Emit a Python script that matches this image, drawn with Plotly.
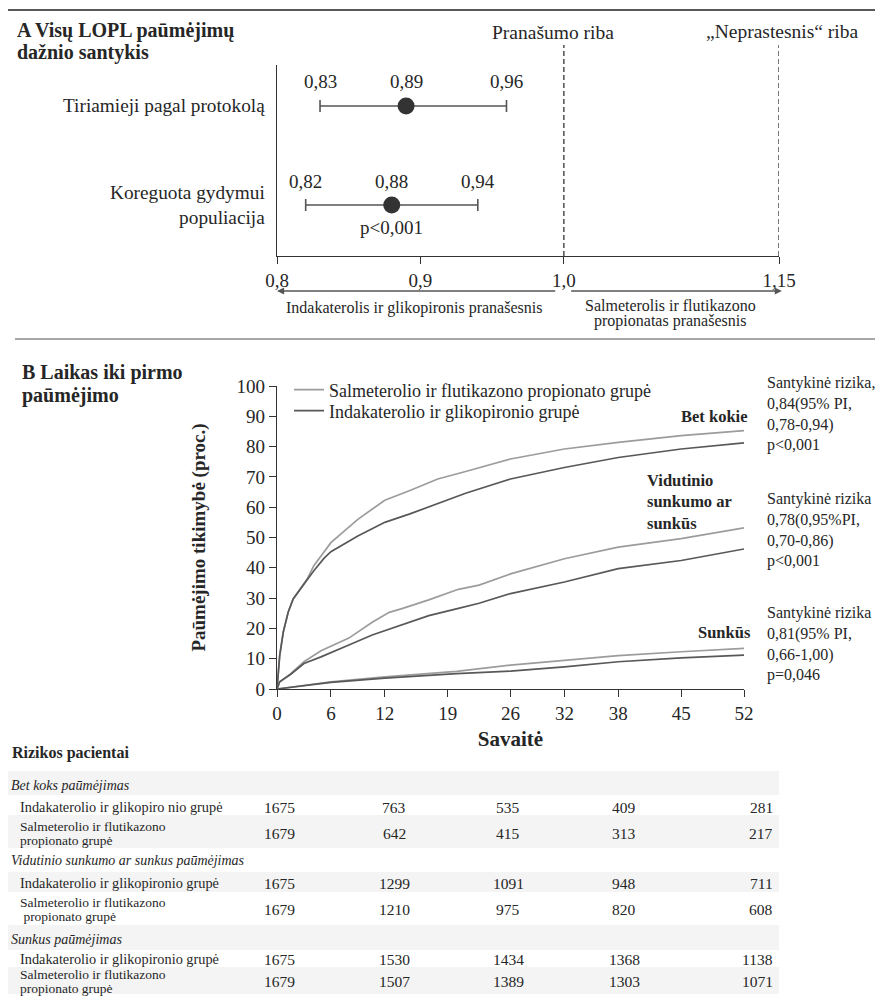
import plotly.graph_objects as go

# ---------------- data ----------------
# Panel A: rate ratio (point estimate, 95% CI)
rows_a = ["Tiriamieji pagal protokolą", "Koreguota gydymui<br>populiacija"]
rr_mid = [0.89, 0.88]
rr_lo = [0.83, 0.82]
rr_hi = [0.96, 0.94]
rr_pos = [2, 1]
rr_mid_txt = ["0,89", "0,88"]
rr_lo_txt = ["0,83", "0,82"]
rr_hi_txt = ["0,96", "0,94"]
a_ticks = [0.8, 0.9, 1.0, 1.15]
a_ticktext = ["0,8", "0,9", "1,0", "1,15"]

# Panel B: cumulative probability of first exacerbation (%)
weeks_any = [0, 0.1, 0.3, 0.7, 1.25, 1.8, 2.6, 3.35, 4.1, 5.25, 6, 9, 12, 14.8, 17.9, 21, 26, 32, 38, 45, 52]
sfc_any = [0, 5, 11, 18.8, 25.4, 29.7, 33, 36.3, 40.7, 45.5, 48.3, 56, 62.3, 65.5, 69.3, 71.8, 75.9, 79.2, 81.4, 83.6, 85.3]
igl_any = [0, 5, 11, 18.8, 25.4, 29.7, 33, 35.7, 39, 43.2, 45.3, 50.5, 55, 57.8, 61.1, 64.6, 69.3, 73.1, 76.4, 79.2, 81.2]

weeks_mod = [0, 0.3, 1.5, 3, 4.9, 5.8, 8, 10.6, 12.5, 14, 16.9, 20.2, 22.5, 26, 32, 38, 45, 52]
sfc_mod = [0, 2.4, 5, 9, 12.6, 13.8, 16.8, 22, 25.3, 26.6, 29.4, 32.9, 34.3, 38, 43, 46.8, 49.6, 53.2]
igl_mod = [0, 2.4, 4.8, 8.4, 10.6, 11.8, 14.5, 17.8, 19.8, 21.3, 24.2, 26.6, 28.3, 31.5, 35.3, 39.7, 42.4, 46.2]

weeks_sev = [0, 6, 12, 20, 26, 32, 38, 45, 52]
sfc_sev = [0, 2.4, 4, 5.8, 7.9, 9.5, 11, 12.3, 13.4]
igl_sev = [0, 2.2, 3.6, 5.1, 5.9, 7.3, 9, 10.3, 11.2]

week_ticks = [0, 6, 12, 19, 26, 32, 38, 45, 52]

name_sfc = "Salmeterolio ir flutikazono propionato grupė"
name_igl = "Indakaterolio ir glikopironio grupė"

# Risk table
table_groups = ["Bet koks paūmėjimas",
                "Vidutinio sunkumo ar sunkus paūmėjimas",
                "Sunkus paūmėjimas"]
igl_labels = ["Indakaterolio ir glikopiro nio grupė",
              "Indakaterolio ir glikopironio grupė",
              "Indakaterolio ir glikopironio grupė"]
sfc_labels = [("Salmeterolio ir flutikazono", "propionato grupė"),
              ("Salmeterolio ir flutikazono", " propionato grupė"),
              ("Salmeterolio ir flutikazono", "propionato grupė")]
igl_risk = [[1675, 763, 535, 409, 281],
            [1675, 1299, 1091, 948, 711],
            [1675, 1530, 1434, 1368, 1138]]
sfc_risk = [[1679, 642, 415, 313, 217],
            [1679, 1210, 975, 820, 608],
            [1679, 1507, 1389, 1303, 1071]]

# ---------------- layout helpers ----------------
# the page body adds an 8 px offset; the figure fills the rest of the window
OFF = 8
W, H = 883 - OFF, 1003 - OFF
FONT = "Liberation Serif"
TXT = "#262626"
LIGHT = "#9c9c9c"
DARK = "#585858"


def px(x):
    return (x - OFF) / W


def py(y):
    return 1 - (y - OFF) / H


fig = go.Figure()

# ---------- Panel A ----------
fig.add_trace(go.Scatter(
    x=rr_mid, y=rr_pos, mode="markers", xaxis="x", yaxis="y", showlegend=False,
    marker=dict(size=17, color="#333333"),
    error_x=dict(type="data", symmetric=False,
                 array=[h - m for h, m in zip(rr_hi, rr_mid)],
                 arrayminus=[m - l for m, l in zip(rr_mid, rr_lo)],
                 color="#555555", thickness=1.6, width=6),
    hoverinfo="skip"))

# ---------- Panel B curves ----------
curves = [
    (weeks_any, sfc_any, LIGHT, name_sfc, True, "legend"),
    (weeks_any, igl_any, DARK, name_igl, True, "legend2"),
    (weeks_mod, sfc_mod, LIGHT, name_sfc, False, "legend"),
    (weeks_mod, igl_mod, DARK, name_igl, False, "legend2"),
    (weeks_sev, sfc_sev, LIGHT, name_sfc, False, "legend"),
    (weeks_sev, igl_sev, DARK, name_igl, False, "legend2"),
]
for wx, vy, col, nm, sl, lg in curves:
    fig.add_trace(go.Scatter(
        x=wx, y=vy, mode="lines", xaxis="x2", yaxis="y2",
        line=dict(color=col, width=1.7), name=nm, showlegend=sl,
        legendgroup=nm, legend=lg))

ann = []
shapes = []


def text(x, y, t, size, xanchor="center", yanchor="middle", xref="paper", yref="paper",
         align="left", xshift=0, yshift=0):
    ann.append(dict(x=x, y=y, xref=xref, yref=yref, text=t, showarrow=False,
                    xanchor=xanchor, yanchor=yanchor, align=align,
                    xshift=xshift, yshift=yshift,
                    font=dict(family=FONT, size=size, color=TXT)))


# top rule and separator
shapes.append(dict(type="line", xref="paper", yref="paper", x0=0, x1=1, y0=py(10), y1=py(10),
                   line=dict(color="#222222", width=1.5)))
shapes.append(dict(type="line", xref="paper", yref="paper", x0=px(15), x1=px(879), y0=py(339), y1=py(339),
                   line=dict(color="#8a8a8a", width=1.5)))

# Panel A titles
text(px(15), py(30), "<b>A Visų LOPL paūmėjimų</b>", 20, xanchor="left")
text(px(15), py(52), "<b>dažnio santykis</b>", 20, xanchor="left")

# Row labels
for lab, pos in zip(rows_a, rr_pos):
    text(px(267), pos, lab, 19.3, xanchor="right", yref="y", align="right")

# value labels
for m, l, h, mt, lt, ht, pos in zip(rr_mid, rr_lo, rr_hi, rr_mid_txt, rr_lo_txt, rr_hi_txt, rr_pos):
    for xv, tv in ((l, lt), (m, mt), (h, ht)):
        text(xv, pos, tv, 19, xref="x", yref="y", yshift=24)
text(rr_mid[1], rr_pos[1], "p&lt;0,001", 19, xref="x", yref="y", yshift=-22)

# reference (dashed) lines
for xv in (1.0, 1.15):
    shapes.append(dict(type="line", xref="x", yref="paper", x0=xv, x1=xv, y0=py(256), y1=py(45),
                       line=dict(color="#333333", width=1.3, dash="5px,3px")))
text(1.0, py(33), "Pranašumo riba", 19.5, xref="x", xshift=-11)
text(1.15, py(32), "„Neprastesnis“ riba", 19.5, xref="x", xshift=3)

# direction arrows
ann.append(dict(x=0.8, y=py(291), xref="x", yref="paper", ax=0.995, ay=0, axref="x", ayref="pixel",
                showarrow=True, arrowhead=2, arrowsize=1.1, arrowwidth=1.3, arrowcolor="#555555", text=""))
ann.append(dict(x=1.152, y=py(291), xref="x", yref="paper", ax=1.004, ay=0, axref="x", ayref="pixel",
                showarrow=True, arrowhead=2, arrowsize=1.1, arrowwidth=1.3, arrowcolor="#555555", text=""))
text(px(414), py(308), "Indakaterolis ir glikopironis pranašesnis", 16)
text(px(670), py(305), "Salmeterolis ir flutikazono", 16)
text(px(670), py(321), "propionatas pranašesnis", 16)

# Panel B titles
text(px(20), py(372), "<b>B Laikas iki pirmo</b>", 20, xanchor="left")
text(px(20), py(395), "<b>paūmėjimo</b>", 20, xanchor="left")

# curve labels
text(px(749), 90, "<b>Bet kokie</b>", 16.5, xanchor="right", yref="y2")
text(px(645), 61.7, "<b>Vidutinio<br>sunkumo ar<br>sunkūs</b>", 16.5, xanchor="left", yref="y2")
text(px(753), 18.5, "<b>Sunkūs</b>", 16.5, xanchor="right", yref="y2")

# hazard ratio notes
text(px(765), 90.8, "Santykinė rizika,<br>0,84(95% PI,<br>0,78-0,94)<br>p&lt;0,001", 16, xanchor="left", yref="y2")
text(px(765), 52.5, "Santykinė rizika<br>0,78(0,95%PI,<br>0,70-0,86)<br>p&lt;0,001", 16, xanchor="left", yref="y2")
text(px(765), 14.7, "Santykinė rizika<br>0,81(95% PI,<br>0,66-1,00)<br>p=0,046", 16, xanchor="left", yref="y2")

# ---------- risk table ----------
text(px(10), py(753), "<b>Rizikos pacientai</b>", 16, xanchor="left")
band_y = [(771, 795), (815, 848), (872, 892), (925, 950), (967, 994)]
for y0, y1 in band_y:
    shapes.append(dict(type="rect", xref="paper", yref="paper", x0=px(8), x1=px(779),
                       y0=py(y1), y1=py(y0), fillcolor="#f4f4f4", line=dict(width=0), layer="below"))

group_y = [785, 860.5, 939]
igl_y = [807, 883, 959]
sfc_y = [833, 909, 981]
col_x = [279, 394, 508, 624]
last_col_right = 775

for g in range(3):
    text(px(9), py(group_y[g]), "<i>" + table_groups[g] + "</i>", 14, xanchor="left")
    text(px(18), py(igl_y[g]), igl_labels[g], 14.3, xanchor="left")
    l1, l2 = sfc_labels[g]
    text(px(18), py(sfc_y[g] - 7), l1, 13.5, xanchor="left")
    text(px(18), py(sfc_y[g] + 7.5), l2, 13.5, xanchor="left")
    for rowvals, yy in ((igl_risk[g], igl_y[g]), (sfc_risk[g], sfc_y[g])):
        for ci, v in enumerate(rowvals):
            if ci < 4:
                text(px(col_x[ci]), py(yy), str(v), 15.5)
            else:
                text(px(last_col_right), py(yy), str(v), 15.5, xanchor="right")

axis_common = dict(showgrid=False, zeroline=False, showline=True, linecolor="#333333", linewidth=1.3,
                   ticks="outside", ticklen=7, tickcolor="#333333", tickwidth=1.3, automargin=False,
                   tickfont=dict(family=FONT, size=19, color=TXT))

legend_common = dict(xanchor="left", yanchor="middle", bgcolor="rgba(0,0,0,0)",
                     font=dict(family=FONT, size=18, color=TXT), itemwidth=30, tracegroupgap=0)

fig.update_layout(
    width=W, height=H,
    margin=dict(l=0, r=0, t=0, b=0, autoexpand=False),
    paper_bgcolor="white", plot_bgcolor="rgba(0,0,0,0)",
    font=dict(family=FONT, color=TXT),
    separators=", ",
    xaxis=dict(domain=[px(277), px(779)], range=[0.8, 1.15], tickvals=a_ticks, ticktext=a_ticktext,
               anchor="y", **axis_common),
    yaxis=dict(domain=[py(256), py(65)], range=[0.485, 2.414], anchor="x", automargin=False,
               showgrid=False, zeroline=False, showline=True, linecolor="#333333", linewidth=1.3,
               showticklabels=False, ticks=""),
    xaxis2=dict(domain=[px(277), px(744)], range=[0, 52], tickvals=week_ticks, anchor="y2",
                title=dict(text="<b>Savaitė</b>", font=dict(family=FONT, size=21, color=TXT), standoff=8),
                **axis_common),
    yaxis2=dict(domain=[py(689), py(386)], range=[0, 100], dtick=10, anchor="x2",
                title=dict(text="<b>Paūmėjimo tikimybė (proc.)</b>", font=dict(family=FONT, size=19, color=TXT),
                           standoff=25),
                **axis_common),
    legend=dict(x=px(289), y=py(390), **legend_common),
    legend2=dict(x=px(289), y=py(411), **legend_common),
    annotations=ann,
    shapes=shapes,
)

fig.write_html("out.html")
